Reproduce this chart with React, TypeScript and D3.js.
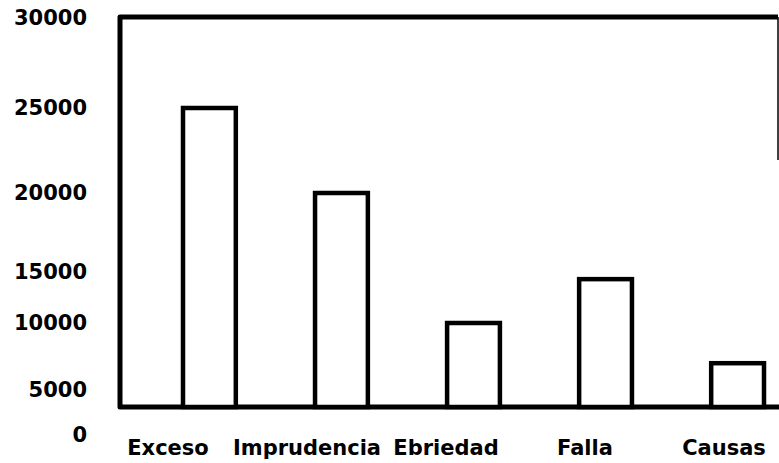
import React, { useEffect, useRef } from "react";
import * as d3 from "d3";

// causes (as printed under the bars)
const categories = [ "Exceso", "Imprudencia", "Ebriedad", "Falla", "Causas" ];
// number of cases
const values = [ 25000, 20000, 10000, 14300, 7000 ];
// y tick labels (the printed axis is not evenly spaced)
const yTicks = [ 0, 5000, 10000, 15000, 20000, 25000, 30000 ];

const W = 779;
const H = 463;
const FONT = "'DejaVu Sans', 'Liberation Sans', Arial, sans-serif";

export default function App() {
	const ref = useRef<SVGSVGElement>( null );

	useEffect( () => {
		const svg = d3.select( ref.current );
		svg.selectAll( "*" ).remove();

		const left = 120, right = 778, top = 17, base = 407;

		// piecewise y scale that follows where the scanned tick labels sit
		const y = d3.scaleLinear()
			.domain( yTicks )
			.range( [ 435, 390, 323, 272, 193, 108, 18 ] );

		const x = d3.scaleBand()
			.domain( categories )
			.range( [ 183, 764 ] )
			.paddingInner( 0.6 )
			.paddingOuter( 0 );

		const xl = d3.scalePoint()
			.domain( categories )
			.range( [ 168, 724 ] );

		// y axis labels only
		const ya = svg.append( "g" )
			.attr( "transform", "translate(" + left + ",0)" )
			.call( d3.axisLeft( y ).tickValues( yTicks ).tickSize( 0 ).tickPadding( 33 ).tickFormat( d3.format( "d" ) ) );
		ya.select( ".domain" ).remove();
		ya.selectAll( "text" )
			.attr( "fill", "#000" )
			.attr( "font-family", FONT )
			.attr( "font-weight", "bold" )
			.attr( "font-size", 21 );

		// frame
		const frame = svg.append( "g" ).attr( "stroke", "#000" ).attr( "fill", "none" );
		frame.append( "path" )
			.attr( "d", "M" + right + "," + top + "H" + left + "V" + base + "H" + W )
			.attr( "stroke-width", 5 )
			.attr( "stroke-linejoin", "round" );
		frame.append( "line" )
			.attr( "x1", right ).attr( "x2", right )
			.attr( "y1", top ).attr( "y2", 160 )
			.attr( "stroke-width", 1.5 );

		// bars (hollow)
		svg.append( "g" )
			.selectAll( "rect" )
			.data( values )
			.join( "rect" )
				.attr( "x", ( d, i ) => x( categories[ i ] ) as number )
				.attr( "y", d => y( d ) )
				.attr( "width", x.bandwidth() )
				.attr( "height", d => base - y( d ) )
				.attr( "fill", "#fff" )
				.attr( "stroke", "#000" )
				.attr( "stroke-width", 4.5 );

		// x labels
		svg.append( "g" )
			.selectAll( "text" )
			.data( categories )
			.join( "text" )
				.attr( "x", d => xl( d ) as number )
				.attr( "y", 455 )
				.attr( "text-anchor", "middle" )
				.attr( "font-family", FONT )
				.attr( "font-weight", "bold" )
				.attr( "font-size", 21 )
				.text( d => d );
	}, [] );

	return (
		<svg ref={ ref } width={ W } height={ H }
			style={ { position: "absolute", left: 0, top: 0, background: "#fff" } } />
	);
}
